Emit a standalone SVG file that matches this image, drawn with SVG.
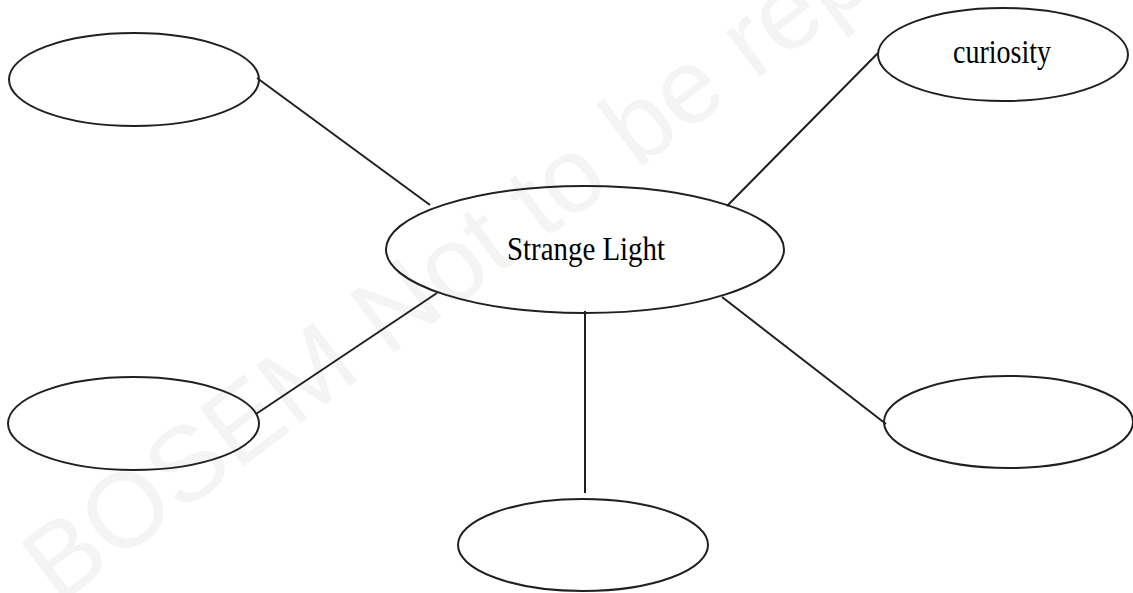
<svg xmlns="http://www.w3.org/2000/svg" width="1133" height="593" viewBox="0 0 1133 593">
<style>
.node{fill:none;stroke:#231f20;stroke-width:2}
.edge{stroke:#231f20;stroke-width:2;fill:none}
.lbl{font-family:"Liberation Serif","Times New Roman",serif;fill:#000;text-anchor:middle}
.wm{font-family:"Liberation Sans",Arial,sans-serif;font-size:106px;fill:#f4f4f4}
</style>
<rect width="1133" height="593" fill="#fff"/>
<text class="wm" transform="translate(58,606) rotate(-37)">BOSEM Not to be rep</text>
<g id="connectors">
<line class="edge" x1="257" y1="78" x2="430" y2="205"/>
<line class="edge" x1="878" y1="53" x2="727" y2="206"/>
<line class="edge" x1="256" y1="414" x2="437" y2="293"/>
<line class="edge" x1="585" y1="311" x2="585" y2="493"/>
<line class="edge" x1="886" y1="424" x2="722" y2="297"/>
</g>
<g id="center">
<ellipse class="node" cx="585" cy="249.5" rx="199" ry="63.5"/>
<text class="lbl" x="586" y="260" font-size="33" textLength="158" lengthAdjust="spacingAndGlyphs">Strange Light</text>
</g>
<g id="curiosity">
<ellipse class="node" cx="1003" cy="54.5" rx="125" ry="46.5"/>
<text class="lbl" x="1002" y="63" font-size="33" textLength="98" lengthAdjust="spacingAndGlyphs">curiosity</text>
</g>
<g id="top-left">
<ellipse class="node" cx="134" cy="79.5" rx="125" ry="46.5"/>
</g>
<g id="bottom-left">
<ellipse class="node" cx="133.5" cy="423.5" rx="125.5" ry="46.5"/>
</g>
<g id="bottom">
<ellipse class="node" cx="583" cy="545" rx="125" ry="46"/>
</g>
<g id="bottom-right">
<ellipse class="node" cx="1008.5" cy="422" rx="124.5" ry="46"/>
</g>
</svg>
